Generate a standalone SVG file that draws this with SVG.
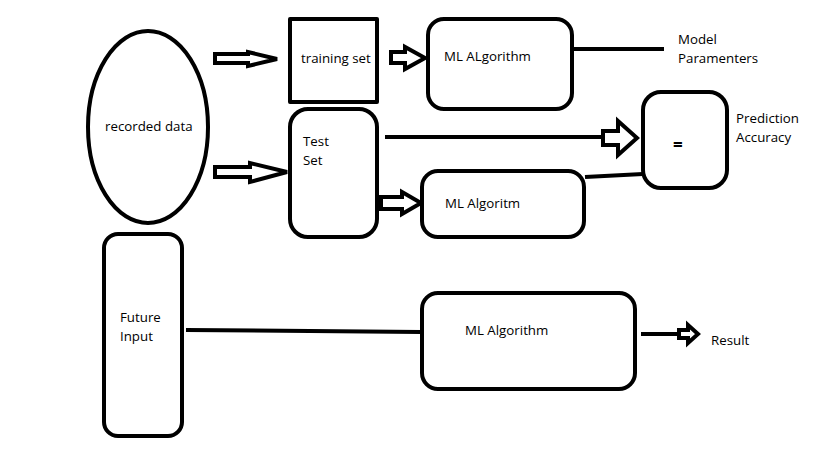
<svg xmlns="http://www.w3.org/2000/svg" width="819" height="460" viewBox="0 0 819 460">
<style>
.s{fill:#fff;stroke:#000;stroke-width:4;stroke-linejoin:round}
.l{fill:none;stroke:#000;stroke-width:4}
.a{fill:#fff;stroke:#000;stroke-width:4;stroke-linejoin:miter}
text{font-family:"Open Sans","Noto Sans","DejaVu Sans",sans-serif;font-size:13.3px;fill:#000}
</style>
<rect width="819" height="460" fill="#fff"/>
<g id="connectors">
<polygon class="a" points="215,54 248,54 248,52 277,59 248,66 248,63 215,63"/>
<polygon class="a" points="215,167 250,167 250,163 287,172 250,182 250,177 215,177"/>
<polygon class="a" points="391,52 405,52 405,47 425,58 405,69 405,63 391,63"/>
<line class="l" x1="572" y1="49" x2="664" y2="49"/>
<line class="l" x1="385" y1="137" x2="603" y2="137"/>
<polygon class="a" points="603,131 618,131 618,121 637,138 618,155 618,145 603,145"/>
<polygon class="a" points="381,197 402,197 402,192 421,203 402,214 402,209 381,209"/>
<line class="l" x1="585" y1="177" x2="643" y2="174"/>
<line class="l" x1="186" y1="330" x2="421" y2="332"/>
<line class="l" x1="641" y1="334" x2="680" y2="334"/>
<polygon class="a" points="679,330 688,330 688,325 698,334 688,343 688,338 679,338"/>
</g>
<g id="recorded-data">
<ellipse class="s" cx="148" cy="127" rx="60" ry="96"/>
<text x="105" y="131">recorded data</text>
</g>
<g id="future-input">
<rect class="s" x="104" y="234" width="78" height="202" rx="14"/>
<text x="120" y="322">Future</text>
<text x="120" y="341">Input</text>
</g>
<g id="training-set">
<rect class="s" x="290" y="19" width="87" height="83"/>
<text x="301" y="63">training set</text>
</g>
<g id="ml-algorithm-1">
<rect class="s" x="428" y="19" width="144" height="90" rx="16"/>
<text x="444" y="61">ML ALgorithm</text>
</g>
<g id="model-parameters">
<text x="678" y="44">Model</text>
<text x="678" y="63">Paramenters</text>
</g>
<g id="test-set">
<rect class="s" x="290" y="109" width="87" height="128" rx="18"/>
<text x="303" y="146">Test</text>
<text x="303" y="165">Set</text>
</g>
<g id="equals">
<rect class="s" x="643" y="92" width="84" height="96" rx="18"/>
<text x="673" y="151" style="font-size:17px;font-weight:bold">=</text>
</g>
<g id="prediction-accuracy">
<text x="736" y="123">Prediction</text>
<text x="736" y="142">Accuracy</text>
</g>
<g id="ml-algorithm-2">
<rect class="s" x="422" y="171" width="162" height="66" rx="16"/>
<text x="445" y="208">ML Algoritm</text>
</g>
<g id="ml-algorithm-3">
<rect class="s" x="422" y="293" width="213" height="96" rx="16"/>
<text x="465" y="335">ML Algorithm</text>
</g>
<g id="result">
<text x="711" y="345">Result</text>
</g>
</svg>
